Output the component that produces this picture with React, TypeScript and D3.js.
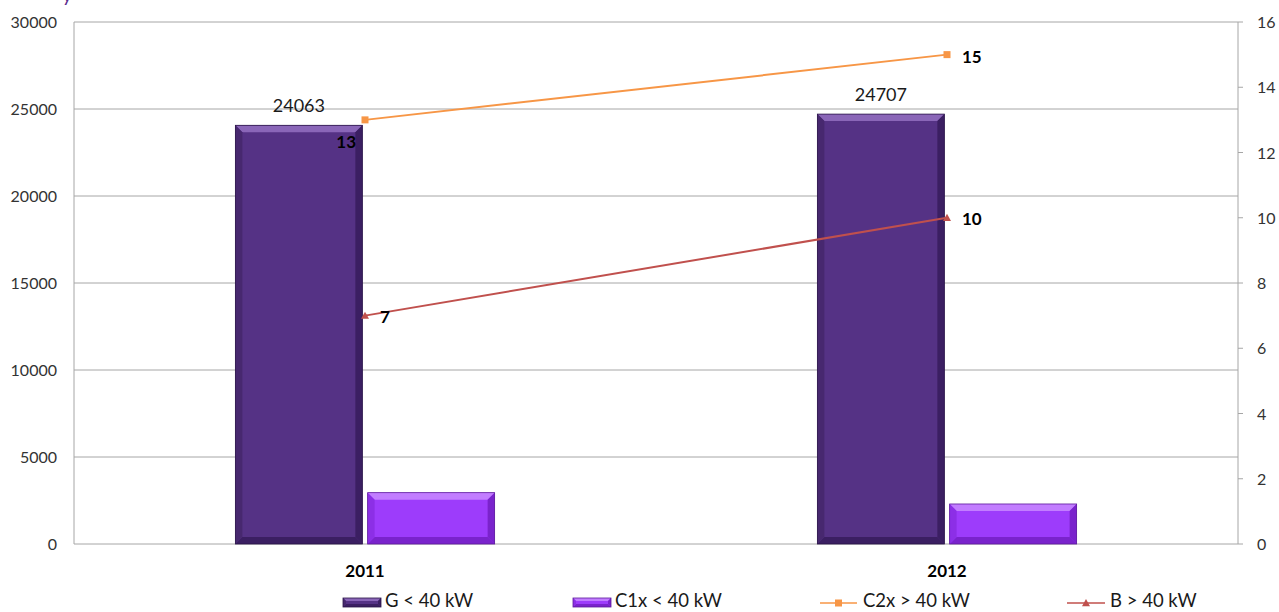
import React from "react";
import * as d3 from "d3";

const categories = ["2011", "2012"];
const gValues = [24063, 24707];
const c1xValues = [2950, 2300];
const c2xValues = [13, 15];
const bValues = [7, 10];
const leftTicks = [0, 5000, 10000, 15000, 20000, 25000, 30000];
const rightTicks = [0, 2, 4, 6, 8, 10, 12, 14, 16];
const barKeys = ["G < 40 kW", "C1x < 40 kW"];
const lineKeys = ["C2x > 40 kW", "B > 40 kW"];

const W = 1279;
const H = 612;
const PL = 74;
const PR = 1238;
const PT = 22;
const PB = 544;
const FONT = "Lato, 'Open Sans', sans-serif";

const barStyles = [
  { body: "#553285", top: "#8a66b8", bottom: "#3b1f62", side: "#47286f", edge: "#2a1448" },
  { body: "#9d3cfb", top: "#c27dff", bottom: "#7a23cc", side: "#8c2fe6", edge: "#5d1a9c" },
];
const lineStyles = [
  { color: "#f79646", marker: "square" },
  { color: "#c0504d", marker: "triangle" },
];

function BevelRect({ x, y, w, h, s, b = 6 }: any) {
  const bb = Math.min(b, h / 2, w / 2);
  return (
    <g>
      <rect x={x} y={y} width={w} height={h} fill={s.body} />
      <polygon points={`${x},${y} ${x + w},${y} ${x + w - bb},${y + bb} ${x + bb},${y + bb}`} fill={s.top} />
      <polygon points={`${x},${y + h} ${x + w},${y + h} ${x + w - bb},${y + h - bb} ${x + bb},${y + h - bb}`} fill={s.bottom} />
      <polygon points={`${x},${y} ${x + bb},${y + bb} ${x + bb},${y + h - bb} ${x},${y + h}`} fill={s.side} />
      <polygon points={`${x + w},${y} ${x + w - bb},${y + bb} ${x + w - bb},${y + h - bb} ${x + w},${y + h}`} fill={s.bottom} />
      <rect x={x} y={y} width={w} height={h} fill="none" stroke={s.edge} strokeWidth={0.8} />
    </g>
  );
}

function Marker({ type, x, y, color, size = 7 }: any) {
  if (type === "square") {
    return <rect x={x - size / 2} y={y - size / 2} width={size} height={size} fill={color} />;
  }
  const r = size / 2 + 0.5;
  return <polygon points={`${x},${y - r} ${x + r},${y + r * 0.8} ${x - r},${y + r * 0.8}`} fill={color} />;
}

export default function App() {
  const y = d3.scaleLinear().domain([0, 30000]).range([PB, PT]);
  const yR = d3.scaleLinear().domain([0, 16]).range([PB, PT]);
  const x0 = d3.scaleBand<string>().domain(categories).range([PL, PR]).padding(0);
  const x1 = d3
    .scaleBand<string>()
    .domain(barKeys)
    .range([0, x0.bandwidth()])
    .paddingInner(0.04)
    .paddingOuter(1.22);
  const barSeries = [gValues, c1xValues];
  const lineSeries = [c2xValues, bValues];
  const cx = (c: string) => (x0(c) as number) + x0.bandwidth() / 2;

  const lineGen = d3
    .line<[number, number]>()
    .x((d) => d[0])
    .y((d) => d[1]);

  const lineLabelPos = [
    [
      { dx: -9, dy: 28, anchor: "end" },
      { dx: 15, dy: 8, anchor: "start" },
    ],
    [
      { dx: 15, dy: 7, anchor: "start" },
      { dx: 15, dy: 7, anchor: "start" },
    ],
  ];

  const legendItems = [
    { type: "bar", idx: 0, x: 343, w: 38, tx: 385, label: barKeys[0] },
    { type: "bar", idx: 1, x: 573, w: 38, tx: 615, label: barKeys[1] },
    { type: "line", idx: 0, x: 820, w: 37, tx: 863, label: lineKeys[0] },
    { type: "line", idx: 1, x: 1067, w: 38, tx: 1110, label: lineKeys[1] },
  ];
  const ly = 603;

  return (
    <svg width={W} height={H} style={{ display: "block", position: "absolute", left: 0, top: 0, background: "#fff" }}>
      <rect x={0} y={0} width={W} height={H} fill="#ffffff" />
      <text x={62} y={2} fontFamily={FONT} fontSize={20} fill="#5b2d8e">y</text>
      {leftTicks.map((t) => (
        <line key={"g" + t} x1={PL} x2={PR} y1={y(t)} y2={y(t)} stroke="#a6a6a6" strokeWidth={1} />
      ))}
      <line x1={PL} x2={PL} y1={PT} y2={PB} stroke="#a6a6a6" strokeWidth={1} />
      {leftTicks.map((t) => (
        <text key={"lt" + t} x={57} y={y(t) + 6} textAnchor="end" fontFamily={FONT} fontSize={16} fill="#333">
          {t}
        </text>
      ))}
      <line x1={PR} x2={PR} y1={PT} y2={PB} stroke="#a6a6a6" strokeWidth={1} />
      {rightTicks.map((t) => (
        <g key={"rt" + t}>
          <line x1={PR} x2={PR + 5} y1={yR(t)} y2={yR(t)} stroke="#a6a6a6" strokeWidth={1} />
          <text x={1257} y={yR(t) + 6} fontFamily={FONT} fontSize={16} fill="#333">
            {t}
          </text>
        </g>
      ))}
      {categories.map((c, ci) =>
        barKeys.map((k, ki) => {
          const v = barSeries[ki][ci];
          const bx = (x0(c) as number) + (x1(k) as number);
          const bw = x1.bandwidth();
          return <BevelRect key={c + k} x={bx} y={y(v)} w={bw} h={PB - y(v)} s={barStyles[ki]} b={7} />;
        })
      )}
      {categories.map((c, ci) => {
        const bx = (x0(c) as number) + (x1(barKeys[0]) as number) + x1.bandwidth() / 2;
        return (
          <text key={"bl" + c} x={bx} y={y(gValues[ci]) - 13} textAnchor="middle" fontFamily={FONT} fontSize={18} fill="#1a1a1a">
            {gValues[ci]}
          </text>
        );
      })}
      {lineSeries.map((vals, si) => {
        const pts: [number, number][] = categories.map((c, ci) => [cx(c), yR(vals[ci])]);
        return (
          <g key={"ls" + si}>
            <path d={lineGen(pts) as string} fill="none" stroke={lineStyles[si].color} strokeWidth={2} />
            {pts.map((p, pi) => (
              <Marker key={pi} type={lineStyles[si].marker} x={p[0]} y={p[1]} color={lineStyles[si].color} />
            ))}
            {pts.map((p, pi) => {
              const pos = lineLabelPos[si][pi];
              return (
                <text
                  key={"t" + pi}
                  x={p[0] + pos.dx}
                  y={p[1] + pos.dy}
                  textAnchor={pos.anchor as any}
                  fontFamily={FONT}
                  fontWeight="bold"
                  fontSize={17}
                  fill="#000"
                >
                  {vals[pi]}
                </text>
              );
            })}
          </g>
        );
      })}
      {categories.map((c) => (
        <text key={"cat" + c} x={cx(c)} y={577} textAnchor="middle" fontFamily={FONT} fontWeight="bold" fontSize={17} fill="#000">
          {c}
        </text>
      ))}
      {legendItems.map((it, i) => (
        <g key={"lg" + i}>
          {it.type === "bar" ? (
            <BevelRect x={it.x} y={ly - 5} w={it.w} h={9} s={barStyles[it.idx]} b={3} />
          ) : (
            <g>
              <line x1={it.x} x2={it.x + it.w} y1={ly} y2={ly} stroke={lineStyles[it.idx].color} strokeWidth={1.5} />
              <Marker type={lineStyles[it.idx].marker} x={it.x + it.w / 2} y={ly} color={lineStyles[it.idx].color} size={7} />
            </g>
          )}
          <text x={it.tx} y={607} fontFamily={FONT} fontSize={18.5} fill="#1a1a1a">
            {it.label}
          </text>
        </g>
      ))}
    </svg>
  );
}
